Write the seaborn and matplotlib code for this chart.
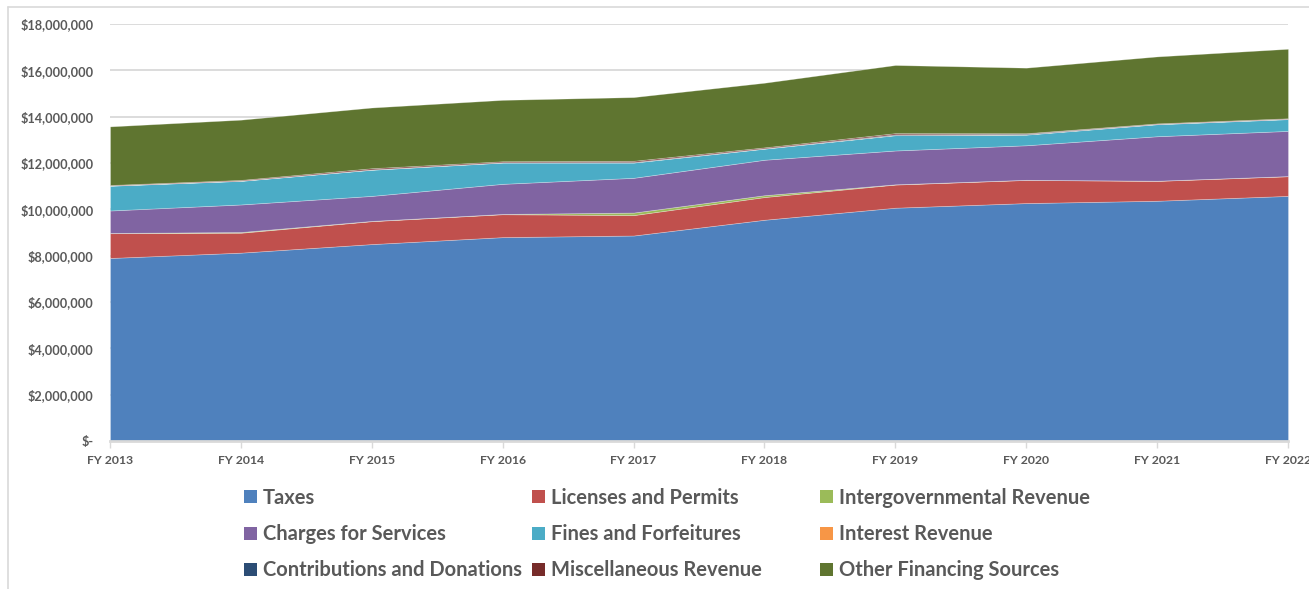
import matplotlib
matplotlib.use("Agg")
import matplotlib.pyplot as plt
from matplotlib.lines import Line2D
from matplotlib.patches import Patch
from matplotlib.ticker import FuncFormatter
import seaborn as sns
import numpy as np
import pandas as pd

# Fiscal years and revenue by source (dollars)
years = ["FY 2013", "FY 2014", "FY 2015", "FY 2016", "FY 2017",
         "FY 2018", "FY 2019", "FY 2020", "FY 2021", "FY 2022"]
taxes = [7900000, 8130000, 8500000, 8800000, 8870000,
         9550000, 10070000, 10270000, 10370000, 10580000]
licenses_permits = [1070000, 860000, 990000, 990000, 880000,
                    980000, 1000000, 1000000, 860000, 850000]
intergovernmental = [10000, 30000, 10000, 10000, 110000,
                     80000, 10000, 5000, 5000, 5000]
charges_services = [970000, 1190000, 1080000, 1300000, 1500000,
                    1530000, 1460000, 1490000, 1920000, 1950000]
fines_forfeitures = [1070000, 1020000, 1130000, 920000, 660000,
                     480000, 660000, 460000, 520000, 510000]
interest_revenue = [5000, 5000, 5000, 5000, 5000,
                    5000, 10000, 10000, 5000, 5000]
contributions = [5000, 5000, 10000, 10000, 20000,
                 10000, 30000, 30000, 10000, 10000]
misc_revenue = [20000, 30000, 50000, 40000, 50000,
                40000, 50000, 20000, 20000, 20000]
other_financing = [2530000, 2600000, 2620000, 2650000, 2750000,
                   2790000, 2940000, 2830000, 2890000, 3000000]

series_names = ["Taxes", "Licenses and Permits", "Intergovernmental Revenue",
                "Charges for Services", "Fines and Forfeitures", "Interest Revenue",
                "Contributions and Donations", "Miscellaneous Revenue",
                "Other Financing Sources"]
series_values = [taxes, licenses_permits, intergovernmental, charges_services,
                 fines_forfeitures, interest_revenue, contributions,
                 misc_revenue, other_financing]
colors = ["#4F81BD", "#C0504D", "#9BBB59", "#8064A2", "#4BACC6",
          "#F79646", "#2C4D75", "#772C2A", "#5F7530"]

df = pd.DataFrame(dict(zip(series_names, series_values)), index=years)

sns.set_theme(style="white")
plt.rcParams["font.family"] = ["Lato", "DejaVu Sans"]
text_color = "#595959"
grid_color = "#d9d9d9"

fig = plt.figure(figsize=(13.09, 5.89), dpi=100)
W, H = 1309, 589
ax = fig.add_axes([110 / W, 1 - 441 / H, (1288 - 110) / W, (441 - 24) / H])

x = np.arange(len(years))
ax.stackplot(x, *[df[c].values for c in series_names], colors=colors,
             edgecolor=(1, 1, 1, 0.35), linewidth=0.5)

ax.set_xlim(0, len(years) - 1)
ax.set_ylim(0, 18000000)
ax.set_yticks(np.arange(0, 18000001, 2000000))


def money(v, pos):
    return "$-" if v == 0 else "${:,.0f}".format(v)


ax.yaxis.set_major_formatter(FuncFormatter(money))
ax.set_xticks(x)
ax.set_xticklabels(years)

ax.grid(axis="y", color=grid_color, linewidth=1.3)
ax.set_axisbelow(True)
for side in ["left", "right", "top"]:
    ax.spines[side].set_visible(False)
ax.spines["bottom"].set_color(grid_color)
ax.spines["bottom"].set_linewidth(2)
ax.spines["bottom"].set_zorder(5)

ax.tick_params(axis="x", which="major", length=5, width=1, color=grid_color,
               direction="out", bottom=True, pad=5,
               labelsize=8.8, labelcolor=text_color)
ax.tick_params(axis="y", length=0, pad=12, labelsize=9.2, labelcolor=text_color)
for lab in ax.get_xticklabels() + ax.get_yticklabels():
    lab.set_fontweight("bold")

# legend: three equal-width columns, three rows each
columns = [[0, 3, 6], [1, 4, 7], [2, 5, 8]]
col_left = [240, 528, 816]
for idx, left in zip(columns, col_left):
    handles = [Patch(facecolor=colors[i], edgecolor="none") for i in idx]
    labels = [series_names[i] for i in idx]
    leg = fig.legend(handles, labels, ncol=1, loc="upper left",
                     bbox_to_anchor=(left / W, 1 - 484 / H), frameon=False,
                     borderaxespad=0, borderpad=0.2,
                     handlelength=0.62, handleheight=0.62, handletextpad=0.3,
                     labelspacing=0.8,
                     prop={"size": 14.5, "weight": "bold"})
    for t in leg.get_texts():
        t.set_color(text_color)

# outer chart frame (left and top edges)
fig.add_artist(Line2D([7.5 / W, 7.5 / W], [0, 1 - 6.5 / H],
                      transform=fig.transFigure, color=grid_color, linewidth=1.2))
fig.add_artist(Line2D([7.5 / W, 1], [1 - 6.5 / H, 1 - 6.5 / H],
                      transform=fig.transFigure, color=grid_color, linewidth=1.2))

fig.savefig("out.png", dpi=100, facecolor="white")
